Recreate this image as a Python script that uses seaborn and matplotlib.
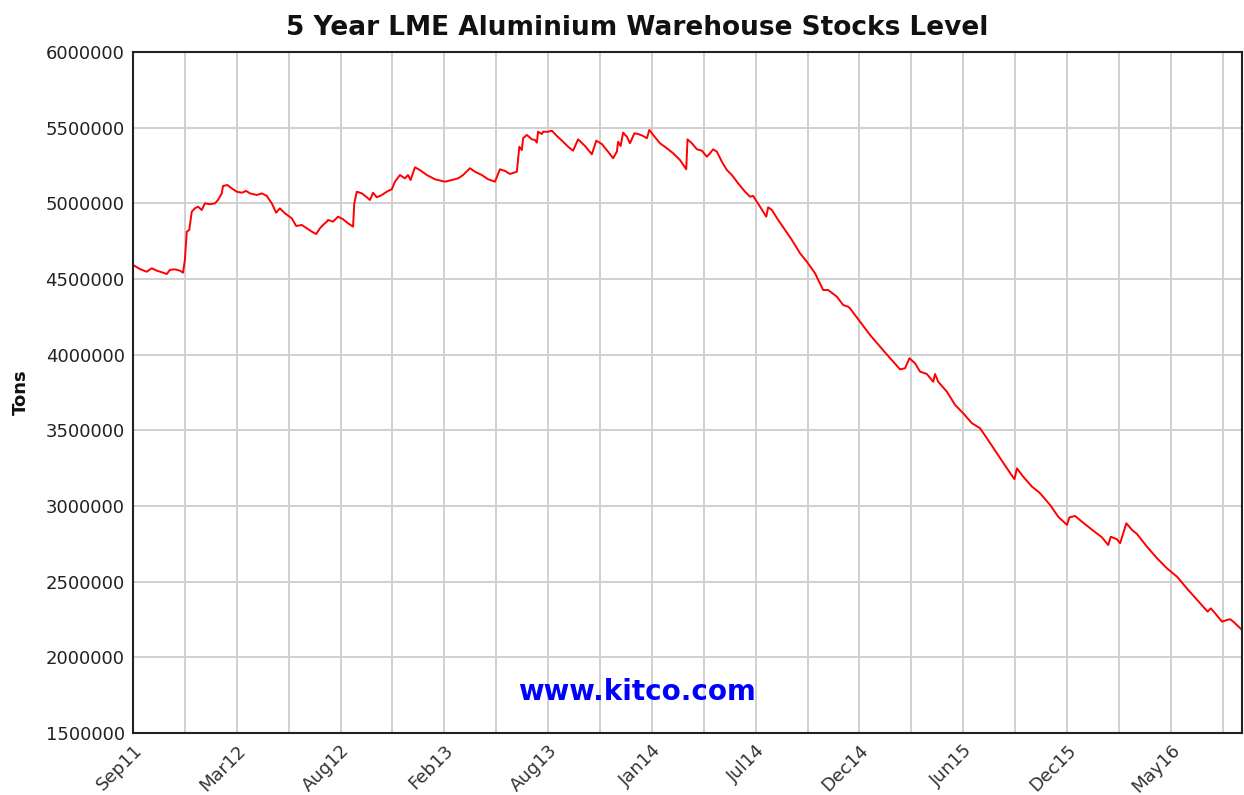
import matplotlib
matplotlib.use("Agg")
import matplotlib.pyplot as plt
import seaborn as sns
import pandas as pd
from matplotlib.ticker import MultipleLocator, FixedLocator, FuncFormatter

# ---- data (days since the first point, tonnes) ----
days = [0, 11, 22, 30, 38, 48, 54, 59, 67, 75, 80, 83, 86, 90, 94, 99, 104, 110, 115, 123,
        131, 136, 142, 144, 151, 158, 166, 174, 181, 187, 198, 206, 214, 222, 229, 235, 243, 254, 261, 270,
        278, 286, 293, 299, 304, 310, 312, 320, 328, 336, 344, 352, 354, 358, 366, 374, 379, 384, 390, 398,
        406, 414, 419, 427, 435, 440, 444, 451, 459, 470, 483, 499, 510, 520, 528, 539, 547, 558, 568, 579,
        587, 595, 603, 614, 618, 622, 624, 630, 638, 643, 646, 648, 654, 656, 664, 670, 678, 688, 696, 704,
        712, 723, 734, 741, 750, 760, 768, 774, 776, 780, 784, 790, 795, 802, 808, 816, 822, 826, 832, 843,
        854, 864, 875, 885, 887, 894, 902, 910, 918, 923, 928, 934, 942, 950, 958, 968, 979, 987, 992, 1003,
        1013, 1016, 1022, 1032, 1043, 1054, 1067, 1078, 1091, 1104, 1112, 1126, 1136, 1144, 1147, 1163, 1179, 1195, 1208, 1216,
        1227, 1235, 1242, 1251, 1259, 1270, 1280, 1283, 1288, 1302, 1315, 1328, 1342, 1355, 1366, 1382, 1398, 1410, 1414, 1424,
        1438, 1448, 1451, 1467, 1480, 1494, 1498, 1507, 1518, 1536, 1550, 1560, 1564, 1574, 1579, 1589, 1598, 1606, 1622, 1638,
        1654, 1670, 1688, 1707, 1719, 1724, 1731, 1742, 1750, 1755, 1760, 1774]
stocks = [4593000, 4566000, 4548000, 4571000, 4555000, 4542000, 4533000, 4560000, 4564000, 4555000,
          4542000, 4626000, 4813000, 4824000, 4945000, 4967000, 4978000, 4956000, 5000000, 4994000,
          5000000, 5022000, 5066000, 5115000, 5121000, 5099000, 5077000, 5070000, 5082000, 5066000,
          5055000, 5066000, 5049000, 5000000, 4938000, 4967000, 4934000, 4901000, 4850000, 4857000,
          4835000, 4813000, 4797000, 4835000, 4857000, 4879000, 4890000, 4879000, 4912000, 4895000,
          4868000, 4846000, 5000000, 5077000, 5066000, 5040000, 5022000, 5070000, 5040000, 5055000,
          5077000, 5093000, 5143000, 5187000, 5165000, 5187000, 5154000, 5238000, 5220000, 5187000,
          5159000, 5143000, 5154000, 5165000, 5187000, 5232000, 5209000, 5187000, 5159000, 5143000,
          5225000, 5214000, 5194000, 5209000, 5374000, 5352000, 5430000, 5452000, 5423000, 5419000,
          5401000, 5473000, 5458000, 5473000, 5473000, 5480000, 5445000, 5407000, 5374000, 5348000,
          5423000, 5379000, 5324000, 5414000, 5392000, 5341000, 5298000, 5341000, 5407000, 5379000,
          5467000, 5440000, 5397000, 5463000, 5458000, 5445000, 5430000, 5485000, 5452000, 5397000,
          5364000, 5331000, 5286000, 5225000, 5423000, 5397000, 5357000, 5348000, 5308000, 5331000,
          5357000, 5341000, 5275000, 5220000, 5187000, 5132000, 5077000, 5044000, 5049000, 4978000,
          4912000, 4974000, 4956000, 4890000, 4824000, 4758000, 4670000, 4614000, 4538000, 4427000,
          4427000, 4383000, 4328000, 4317000, 4306000, 4218000, 4130000, 4053000, 3991000, 3954000,
          3903000, 3910000, 3976000, 3943000, 3888000, 3872000, 3821000, 3872000, 3821000, 3755000,
          3668000, 3613000, 3547000, 3514000, 3447000, 3348000, 3249000, 3177000, 3249000, 3194000,
          3128000, 3095000, 3084000, 3007000, 2929000, 2875000, 2925000, 2934000, 2896000, 2837000,
          2793000, 2742000, 2797000, 2780000, 2754000, 2886000, 2842000, 2815000, 2731000, 2655000,
          2588000, 2533000, 2445000, 2357000, 2302000, 2324000, 2291000, 2236000, 2247000, 2252000,
          2236000, 2181000]
tick_labels = ["Sep11", "Mar12", "Aug12", "Feb13", "Aug13", "Jan14",
               "Jul14", "Dec14", "Jun15", "Dec15", "May16"]
title = "5 Year LME Aluminium Warehouse Stocks Level"
ylabel = "Tons"
watermark = "www.kitco.com"

df = pd.DataFrame({"day": days, "stocks": stocks})

sns.set_style("white")
plt.rcParams["font.family"] = ["DejaVu Sans"]

fig = plt.figure(figsize=(12.44, 7.95), dpi=100)
ax = fig.add_axes([133 / 1244, 1 - 733 / 795, (1242 - 133) / 1244, (733 - 52) / 795])

sns.lineplot(data=df, x="day", y="stocks", ax=ax, color="#ff0000", linewidth=1.4)

label_step = 166
ax.set_xlim(0, 1774)
ax.set_ylim(1500000, 6000000)
ax.xaxis.set_major_locator(FixedLocator([i * label_step for i in range(len(tick_labels))]))
ax.xaxis.set_minor_locator(MultipleLocator(label_step / 2))
ax.set_xticklabels(tick_labels)
ax.yaxis.set_major_locator(MultipleLocator(500000))
ax.yaxis.set_major_formatter(FuncFormatter(lambda v, p: f"{int(round(v))}"))

ax.grid(True, which="both", axis="x", color="#d0d0d0", linewidth=1.4)
ax.grid(True, which="major", axis="y", color="#d0d0d0", linewidth=1.4)
ax.set_axisbelow(True)

for s in ax.spines.values():
    s.set_color("#222222")
    s.set_linewidth(1.5)

ax.tick_params(axis="y", direction="in", length=9, width=1.5, color="#222222",
               labelsize=13, labelcolor="#222222", pad=6)
ax.tick_params(axis="x", which="both", length=0, labelsize=13, labelcolor="#333333", pad=6)
for lab in ax.get_xticklabels():
    lab.set_rotation(45)
    lab.set_ha("right")
    lab.set_rotation_mode("anchor")

ax.set_xlabel("")
ax.set_ylabel(ylabel, fontsize=13, fontweight="bold", color="#111111")
ax.yaxis.set_label_coords(-0.093, 0.5)

fig.text(637 / 1244, 1 - 28 / 795, title, ha="center", va="center",
         fontsize=19, fontweight="bold", color="#111111")
ax.text(0.454, 0.06, watermark, transform=ax.transAxes, ha="center", va="center",
        fontsize=20, fontweight="bold", color="#0000ff")

fig.savefig("out.png", dpi=100, facecolor="white")
